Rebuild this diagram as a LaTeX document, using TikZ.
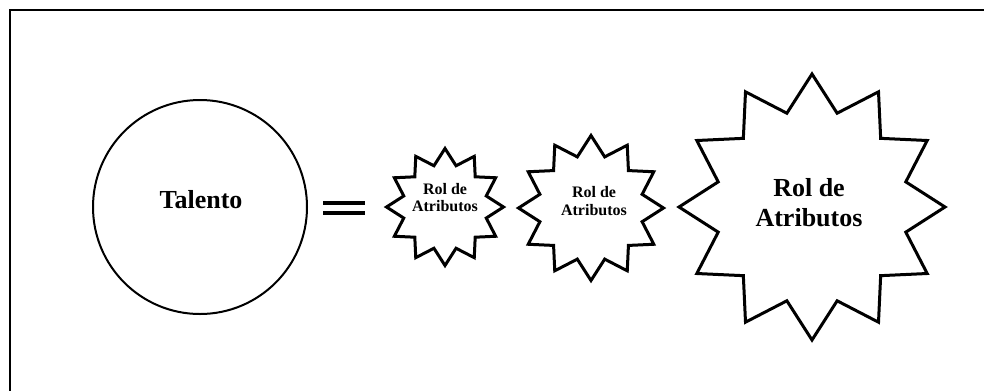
\documentclass[tikz,border=0pt]{standalone}
\usepackage{fontspec}
\setmainfont{Liberation Serif}
\usetikzlibrary{shapes.geometric}

\begin{document}
\begin{tikzpicture}[
  x=0.75pt, y=-0.75pt,
  frame/.style={draw, line width=2pt},
  talent/.style={circle, draw, line width=1.5pt, minimum size=160.5pt, inner sep=0pt},
  burst/.style={star, star points=12, star point ratio=1.37, draw,
    line width=2.25pt, inner sep=0pt, miter limit=20},
  eqbar/.style={line width=2.5pt},
  note/.style={font=\bfseries, align=center, inner sep=0pt},
  small/.style={note, font=\bfseries\fontsize{12}{13}\selectfont},
  big/.style={note, font=\bfseries\fontsize{19.5}{23}\selectfont},
]
\useasboundingbox (0,0) rectangle (984,390);
\clip (0,0) rectangle (984,390);
% the frame runs off the right and bottom edges
\draw[frame] (10,420) |- (1020,10);

% Talent on the left, then the three growing bursts of role attributes.
\node[talent] (talento) at (200,207) {};
\node[big] (talentoText) at (201,200) {Talento};

\coordinate (eq) at (344,208);
\draw[eqbar] ([xshift=-15.75pt, yshift=3.75pt]eq) -- ([xshift=15.75pt, yshift=3.75pt]eq);
\draw[eqbar] ([xshift=-15.75pt, yshift=-3.75pt]eq) -- ([xshift=15.75pt, yshift=-3.75pt]eq);

\node[burst, minimum size=87.75pt] (rolA) at (445,207) {};
\node[small] (rolAText) at (445,197.5) {Rol de\\Atributos};

\node[burst, minimum size=108.75pt] (rolB) at (591,208) {};
\node[small] (rolBText) at (594,201) {Rol de\\Atributos};

\node[burst, minimum size=199.5pt] (rolC) at (812,207) {};
\node[big] (rolCText) at (809,202.5) {Rol de\\Atributos};
\end{tikzpicture}
\end{document}
